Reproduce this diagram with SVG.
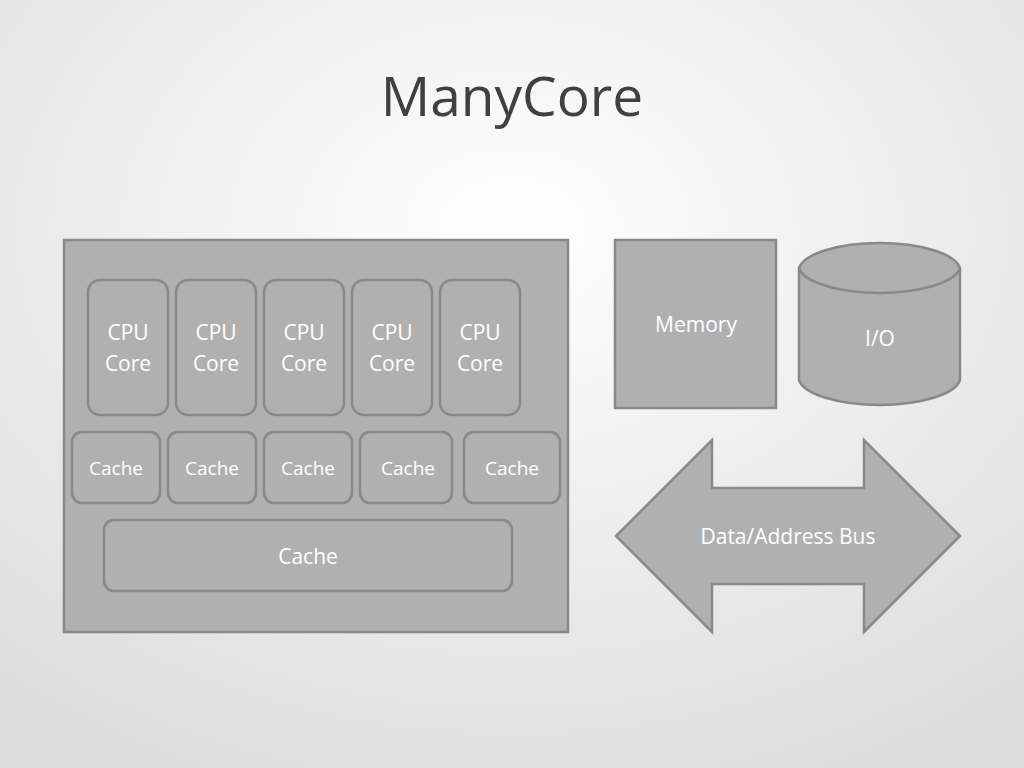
<svg xmlns="http://www.w3.org/2000/svg" width="1024" height="768" viewBox="0 0 1024 768">
<defs>
<radialGradient id="bg" cx="0.5" cy="0.3" r="0.8">
<stop offset="0" stop-color="#ffffff"/><stop offset="1" stop-color="#dcdcdc"/>
</radialGradient>
<style>
.s{fill:#b0b0b0;stroke:#898989;stroke-width:2.5}
.t{fill:#ffffff;font-family:"Open Sans","Noto Sans",sans-serif;font-size:21px;text-anchor:middle}
.c{font-size:19px}
</style>
</defs>
<rect width="1024" height="768" fill="url(#bg)"/>
<text x="512" y="116" font-family="'Open Sans','Noto Sans',sans-serif" font-size="55" fill="#404040" text-anchor="middle">ManyCore</text>
<g id="chip">
<rect class="s" x="64" y="240" width="504" height="392"/>
</g>
<g id="cores">
<rect class="s" x="88" y="280" width="80" height="135" rx="12"/><text class="t" x="128" y="340">CPU</text><text class="t" x="128" y="371">Core</text>
<rect class="s" x="176" y="280" width="80" height="135" rx="12"/><text class="t" x="216" y="340">CPU</text><text class="t" x="216" y="371">Core</text>
<rect class="s" x="264" y="280" width="80" height="135" rx="12"/><text class="t" x="304" y="340">CPU</text><text class="t" x="304" y="371">Core</text>
<rect class="s" x="352" y="280" width="80" height="135" rx="12"/><text class="t" x="392" y="340">CPU</text><text class="t" x="392" y="371">Core</text>
<rect class="s" x="440" y="280" width="80" height="135" rx="12"/><text class="t" x="480" y="340">CPU</text><text class="t" x="480" y="371">Core</text>
</g>
<g id="caches">
<rect class="s" x="72" y="432" width="88" height="71" rx="10"/><text class="t c" x="116" y="475">Cache</text>
<rect class="s" x="168" y="432" width="88" height="71" rx="10"/><text class="t c" x="212" y="475">Cache</text>
<rect class="s" x="264" y="432" width="88" height="71" rx="10"/><text class="t c" x="308" y="475">Cache</text>
<rect class="s" x="360" y="432" width="92" height="71" rx="10"/><text class="t c" x="408" y="475">Cache</text>
<rect class="s" x="464" y="432" width="96" height="71" rx="10"/><text class="t c" x="512" y="475">Cache</text>
</g>
<g id="l2">
<rect class="s" x="104" y="520" width="408" height="71" rx="10"/><text class="t" x="308" y="564">Cache</text>
</g>
<g id="memory">
<rect class="s" x="615" y="240" width="161" height="168"/><text class="t" x="696" y="332">Memory</text>
</g>
<g id="io">
<path class="s" d="M799,268 A81,28 0 0 1 960,268 L960,380 A81,28 0 0 1 799,380 Z"/>
<path d="M799,268 A81,28 0 0 0 960,268" fill="none" stroke="#898989" stroke-width="2.5"/>
<text class="t" x="880" y="346">I/O</text>
</g>
<g id="bus">
<path class="s" d="M616,536 L712,440 L712,488 L864,488 L864,440 L960,536 L864,632 L864,584 L712,584 L712,632 Z"/>
<text class="t" x="788" y="544">Data/Address Bus</text>
</g>
<g id="connectors"/>
</svg>
